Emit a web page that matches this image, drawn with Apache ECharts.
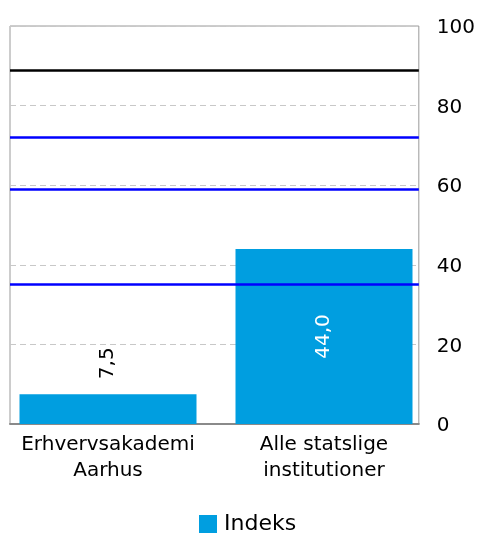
<!DOCTYPE html>
<html>
<head>
<meta charset="utf-8">
<script src="https://cdn.jsdelivr.net/npm/echarts@6/dist/echarts.min.js"></script>
<style>
  html, body { margin: 0; padding: 0; background: #fff; }
  #chart { width: 478px; height: 534px; }
</style>
</head>
<body>
<div id="chart"></div>
<script>
var categories = ['Erhvervsakademi\nAarhus', 'Alle statslige\ninstitutioner'];
var indeks = [7.5, 44.0];
var blackLines = [89];
var blueLines = [72, 59, 35];
var yTicks = [0, 20, 40, 60, 80, 100];

var chart = echarts.init(document.getElementById('chart'), null, { renderer: 'canvas' });

var fontName = 'DejaVu Sans';

var refLines = [];
blackLines.forEach(function (v) {
  refLines.push({ yAxis: v, lineStyle: { color: '#000000', width: 2.5, type: 'solid' } });
});
blueLines.forEach(function (v) {
  refLines.push({ yAxis: v, lineStyle: { color: '#0000ff', width: 2.5, type: 'solid' } });
});

var barData = indeks.map(function (v, i) {
  // small bar: label above; big bar: label inside in white
  if (v < 20) {
    return {
      value: v,
      label: { show: true, position: 'top', rotate: 90, align: 'left', verticalAlign: 'middle',
        distance: 15, color: '#000', fontSize: 20, fontFamily: fontName }
    };
  }
  return {
    value: v,
    label: { show: true, position: 'inside', rotate: 90, color: '#fff', fontSize: 20, fontFamily: fontName }
  };
});

var option = {
  animation: false,
  textStyle: { fontFamily: fontName },
  grid: [
    { left: 10, right: 59, top: 26, bottom: 110, show: true, borderColor: '#9a9a9a', borderWidth: 1, backgroundColor: 'transparent' },
    { left: -2, right: 46, top: 26, bottom: 110 }
  ],
  legend: {
    data: ['Indeks'],
    left: 194,
    top: 508,
    icon: 'rect',
    itemWidth: 18,
    itemHeight: 18,
    itemGap: 6,
    textStyle: { fontSize: 22, color: '#000', fontFamily: fontName, padding: [0, 0, 0, 2] }
  },
  xAxis: [
    {
      type: 'category', gridIndex: 0, data: categories,
      axisLine: { show: true, lineStyle: { color: '#8a8a8a', width: 2 } },
      axisTick: { show: false },
      axisLabel: { show: false }
    },
    {
      type: 'category', gridIndex: 1, data: categories,
      axisLine: { show: false },
      axisTick: { show: false },
      axisLabel: { interval: 0, hideOverlap: false, color: '#000', fontSize: 20, fontFamily: fontName, margin: 8, lineHeight: 26 }
    }
  ],
  yAxis: [
    {
      type: 'value', gridIndex: 0, position: 'right',
      min: yTicks[0], max: yTicks[yTicks.length - 1], interval: 20,
      axisLine: { show: false },
      axisTick: { show: false },
      axisLabel: { color: '#000', fontSize: 20, fontFamily: fontName, margin: 18, verticalAlign: 'top', padding: [-8, 0, 0, 0] },
      splitLine: { show: true, lineStyle: { color: '#c8c8c8', type: [6, 4], width: 1 } }
    },
    { type: 'value', gridIndex: 1, min: 0, max: 100, show: false }
  ],
  series: [
    {
      name: 'Indeks',
      type: 'bar',
      xAxisIndex: 1,
      yAxisIndex: 1,
      barWidth: 177,
      itemStyle: { color: '#009ee0' },
      label: {
        formatter: function (p) { return p.value.toFixed(1).replace('.', ','); }
      },
      data: barData,
      z: 2
    },
    {
      name: 'ref',
      type: 'line',
      xAxisIndex: 0,
      yAxisIndex: 0,
      data: [],
      z: 5,
      markLine: {
        silent: true,
        symbol: 'none',
        label: { show: false },
        data: refLines
      }
    }
  ]
};

chart.setOption(option);
</script>
</body>
</html>
